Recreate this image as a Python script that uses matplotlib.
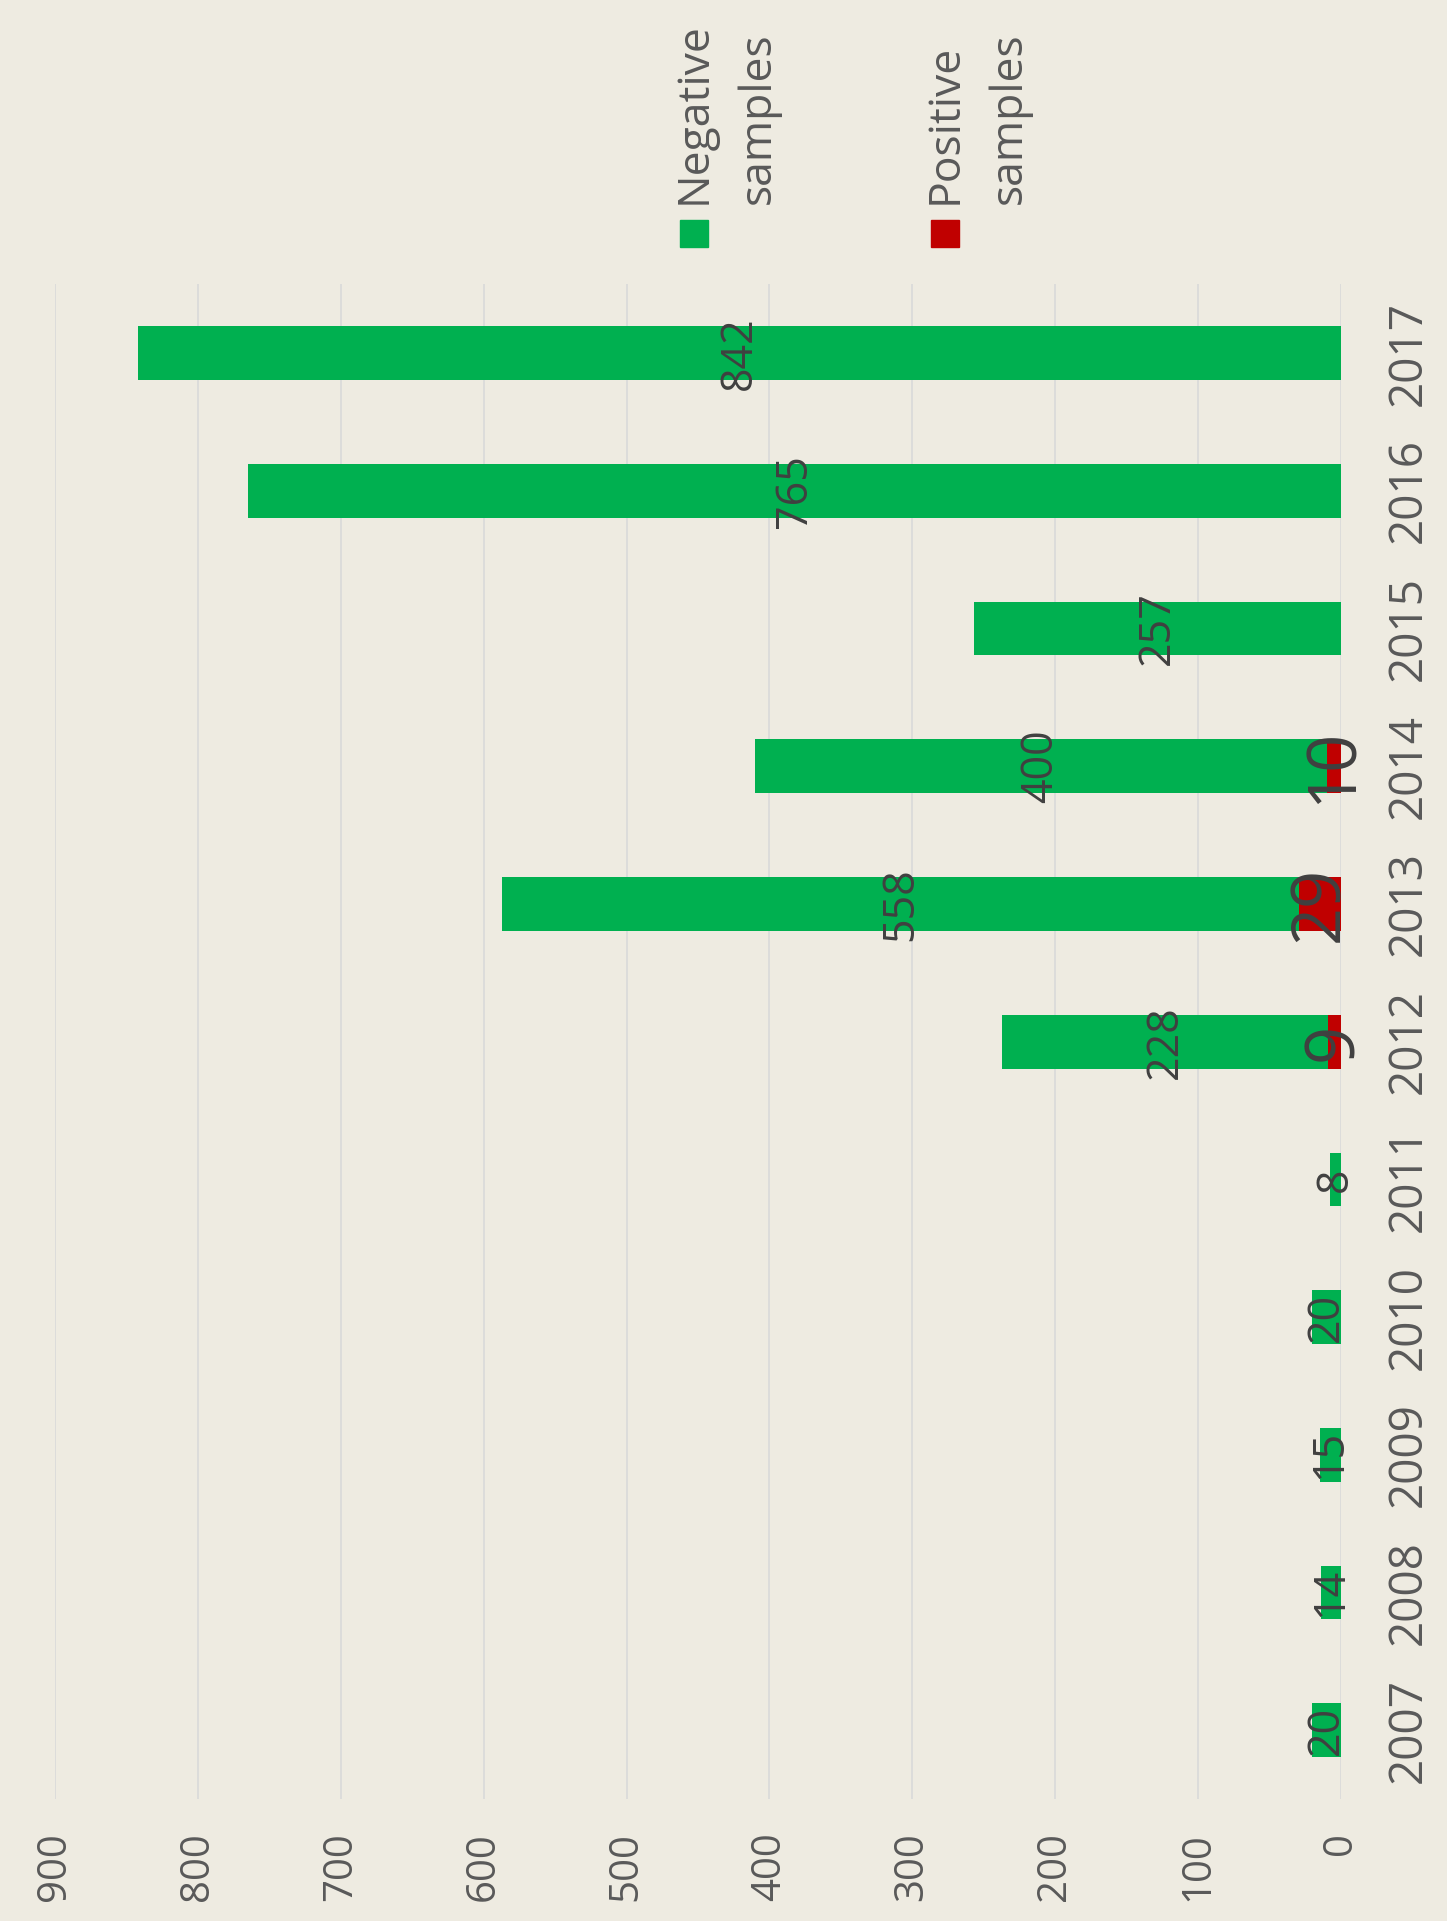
import matplotlib
matplotlib.use("Agg")
import matplotlib.pyplot as plt
from matplotlib.patches import Rectangle
import numpy as np

plt.rcParams['font.family'] = ['Open Sans', 'DejaVu Sans']

years = ['2007', '2008', '2009', '2010', '2011', '2012', '2013', '2014', '2015', '2016', '2017']
negative = [20, 14, 15, 20, 8, 228, 558, 400, 257, 765, 842]
positive = [0, 0, 0, 0, 0, 9, 29, 10, 0, 0, 0]
ticks = [0, 100, 200, 300, 400, 500, 600, 700, 800, 900]

green = '#00B050'
red = '#C00000'
bg = '#EEEBE1'
txt = '#595959'

fig = plt.figure(figsize=(14.47, 19.21), dpi=100)
fig.patch.set_facecolor(bg)
ax = fig.add_axes([0.038, 0.0635, 0.8887, 0.7885])
ax.set_facecolor(bg)

y = np.arange(len(years))
neg = np.array(negative)
pos = np.array(positive)
ax.barh(y, pos, height=0.39, color=red, zorder=3)
ax.barh(y, neg, left=pos, height=0.39, color=green, zorder=3)

# data labels, rotated like the rest of the chart
for i in range(len(years)):
    ax.text(pos[i] + neg[i] / 2, y[i], str(neg[i]), rotation=90,
            ha='center', va='center', fontsize=31, color='#404040', zorder=4)
    if pos[i] > 0:
        ax.text(pos[i] / 2, y[i], str(pos[i]), rotation=90,
                ha='center', va='center', fontsize=48, color='#404040', zorder=4)

ax.set_xlim(900, 0)
ax.set_ylim(-0.5, 10.5)
ax.set_xticks(ticks)
ax.set_xticklabels([str(t) for t in ticks], rotation=90, fontsize=29, color=txt)
ax.set_yticks(y)
ax.set_yticklabels(years, rotation=90, va='center', fontsize=33, color=txt)
ax.yaxis.tick_right()
ax.tick_params(axis='x', length=0, pad=24)
ax.tick_params(axis='y', length=0, pad=32)
ax.grid(axis='x', color='#D9D9D9', linewidth=1.2, zorder=0)
for s in ax.spines.values():
    s.set_visible(False)

# legend, drawn by hand because its text is rotated
W, H = 1447, 1921
legend = [('Negative\nsamples', green, 680), ('Positive\nsamples', red, 931)]
for label, col, px in legend:
    fig.patches.append(Rectangle((px / W, 1 - 247 / H), 28 / W, 27 / H,
                                 transform=fig.transFigure, color=col))
    fig.text((px - 8) / W, 1 - 204 / H, label, rotation=90, ha='left', va='bottom',
             fontsize=32, color=txt, linespacing=1.6)

fig.savefig('out.png', dpi=100, facecolor=bg)
